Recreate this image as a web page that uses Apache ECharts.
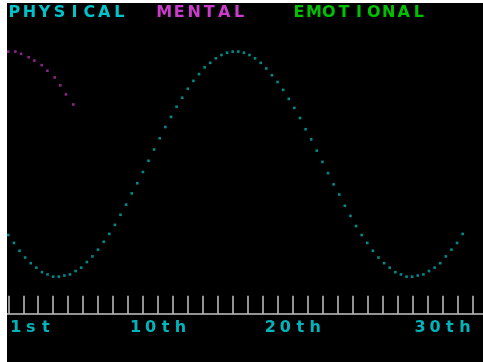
<!DOCTYPE html>
<html>
<head>
<meta charset="utf-8">
<script src="https://cdn.jsdelivr.net/npm/echarts@6/dist/echarts.min.js"></script>
<style>
  html, body { margin: 0; padding: 0; background: #ffffff; }
  #chart { position: absolute; left: 7px; top: 3px; width: 476px; height: 359px; }
</style>
</head>
<body>
<div id="chart"></div>
<script>
// Biorhythm screen: one column per day, cycles plotted as dotted curves (+100 high, -100 low).

// Day columns marked along the bottom ruler
const dayColumns = [0, 1, 2, 3, 4, 5, 6, 7, 8, 9, 10, 11, 12, 13, 14, 15,
                    16, 17, 18, 19, 20, 21, 22, 23, 24, 25, 26, 27, 28, 29, 30, 31];
// Ruler captions and the column each one starts at
const dayLabels = ['1st', '10th', '20th', '30th'];
const labelColumns = [0, 8, 17, 27];

// Physical cycle: one dot every physicalStep columns
const physicalStep = 0.3747;
const physical = [
  -63, -70, -77, -83, -88, -92, -96, -98, -100, -100,
  -99, -98, -95, -92, -87, -82, -76, -69, -62, -54,
  -45, -36, -26, -17, -7, 3, 13, 23, 33, 42,
  51, 59, 67, 74, 80, 86, 90, 94, 97, 99,
  100, 100, 99, 97, 94, 90, 85, 79, 73, 66,
  58, 50, 41, 31, 22, 12, 2, -8, -18, -27,
  -37, -46, -55, -63, -70, -77, -83, -88, -92, -96,
  -98, -100, -100, -99, -98, -95, -92, -88, -82, -76,
  -70, -62
];

// Mental cycle (only the first stretch is plotted)
const mentalX = [0, 0.47, 0.85, 1.36, 1.74, 2.23, 2.61, 3.10, 3.47, 3.85, 4.34];
const mentalLevel = [100, 100, 98, 95, 92, 88, 83, 77, 70, 62, 53];

// Emotional cycle (no dots plotted)
const emotionalX = [];
const emotionalLevel = [];

const CELL = 14.97;
const FONT = '"DejaVu Sans", sans-serif';

// Lay every character into its own fixed-width cell, like a character-grid screen
function cells(text, pad) {
  let out = text.split('').map(ch => '{c|' + ch + '}').join('');
  for (let i = 0; i < (pad || 0); i++) out += '{c| }';
  return out;
}
const cellRich = {
  c: { width: CELL, align: 'center', fontFamily: FONT, fontSize: 16, fontWeight: 'bold', lineHeight: 16 }
};

const colors = { PHYSICAL: '#00c4cc', MENTAL: '#cc3ccc', EMOTIONAL: '#00c000' };
const dotColors = { PHYSICAL: '#00adb2', MENTAL: '#b02cb0', EMOTIONAL: '#00b000' };
const trailing = { PHYSICAL: 1, MENTAL: 2, EMOTIONAL: 0 };

const chart = echarts.init(document.getElementById('chart'), null, { renderer: 'canvas' });

chart.setOption({
  animation: false,
  backgroundColor: '#000000',
  grid: { left: 0, right: 0, top: 48.6, bottom: 48.2, outerBoundsMode: 'none', containLabel: false },
  legend: {
    left: -5,
    top: 2,
    padding: 0,
    itemGap: 10,
    itemWidth: 0,
    itemHeight: 0,
    icon: 'none',
    selectedMode: false,
    formatter: name => cells(name, trailing[name]),
    textStyle: { rich: cellRich },
    data: ['PHYSICAL', 'MENTAL', 'EMOTIONAL'].map(n => ({
      name: n,
      icon: 'none',
      textStyle: { color: colors[n], rich: cellRich }
    }))
  },
  xAxis: {
    type: 'value',
    min: -0.087,
    max: 31.71,
    splitLine: { show: false },
    axisLine: { show: true, onZero: false, lineStyle: { color: '#c4c4c4', width: 1.5 } },
    axisTick: {
      show: true,
      inside: true,
      length: 18,
      customValues: dayColumns,
      lineStyle: { color: '#c4c4c4', width: 1.5 }
    },
    axisLabel: {
      show: true,
      customValues: labelColumns,
      align: 'left',
      margin: 6,
      color: '#00b4bc',
      formatter: v => cells(dayLabels[labelColumns.indexOf(Math.round(v))] || ''),
      rich: cellRich
    }
  },
  yAxis: {
    type: 'value',
    min: -133,
    max: 100,
    show: false,
    splitLine: { show: false }
  },
  series: [
    {
      name: 'PHYSICAL',
      type: 'scatter',
      silent: true,
      clip: false,
      symbol: 'rect',
      symbolSize: 2.6,
      itemStyle: { color: dotColors.PHYSICAL },
      data: physical.map((v, k) => [k * physicalStep, v])
    },
    {
      name: 'MENTAL',
      type: 'scatter',
      silent: true,
      clip: false,
      symbol: 'rect',
      symbolSize: 2.6,
      itemStyle: { color: dotColors.MENTAL },
      data: mentalX.map((x, i) => [x, mentalLevel[i]])
    },
    {
      name: 'EMOTIONAL',
      type: 'scatter',
      silent: true,
      clip: false,
      symbol: 'rect',
      symbolSize: 2.6,
      itemStyle: { color: dotColors.EMOTIONAL },
      data: emotionalX.map((x, i) => [x, emotionalLevel[i]])
    }
  ]
});
</script>
</body>
</html>
